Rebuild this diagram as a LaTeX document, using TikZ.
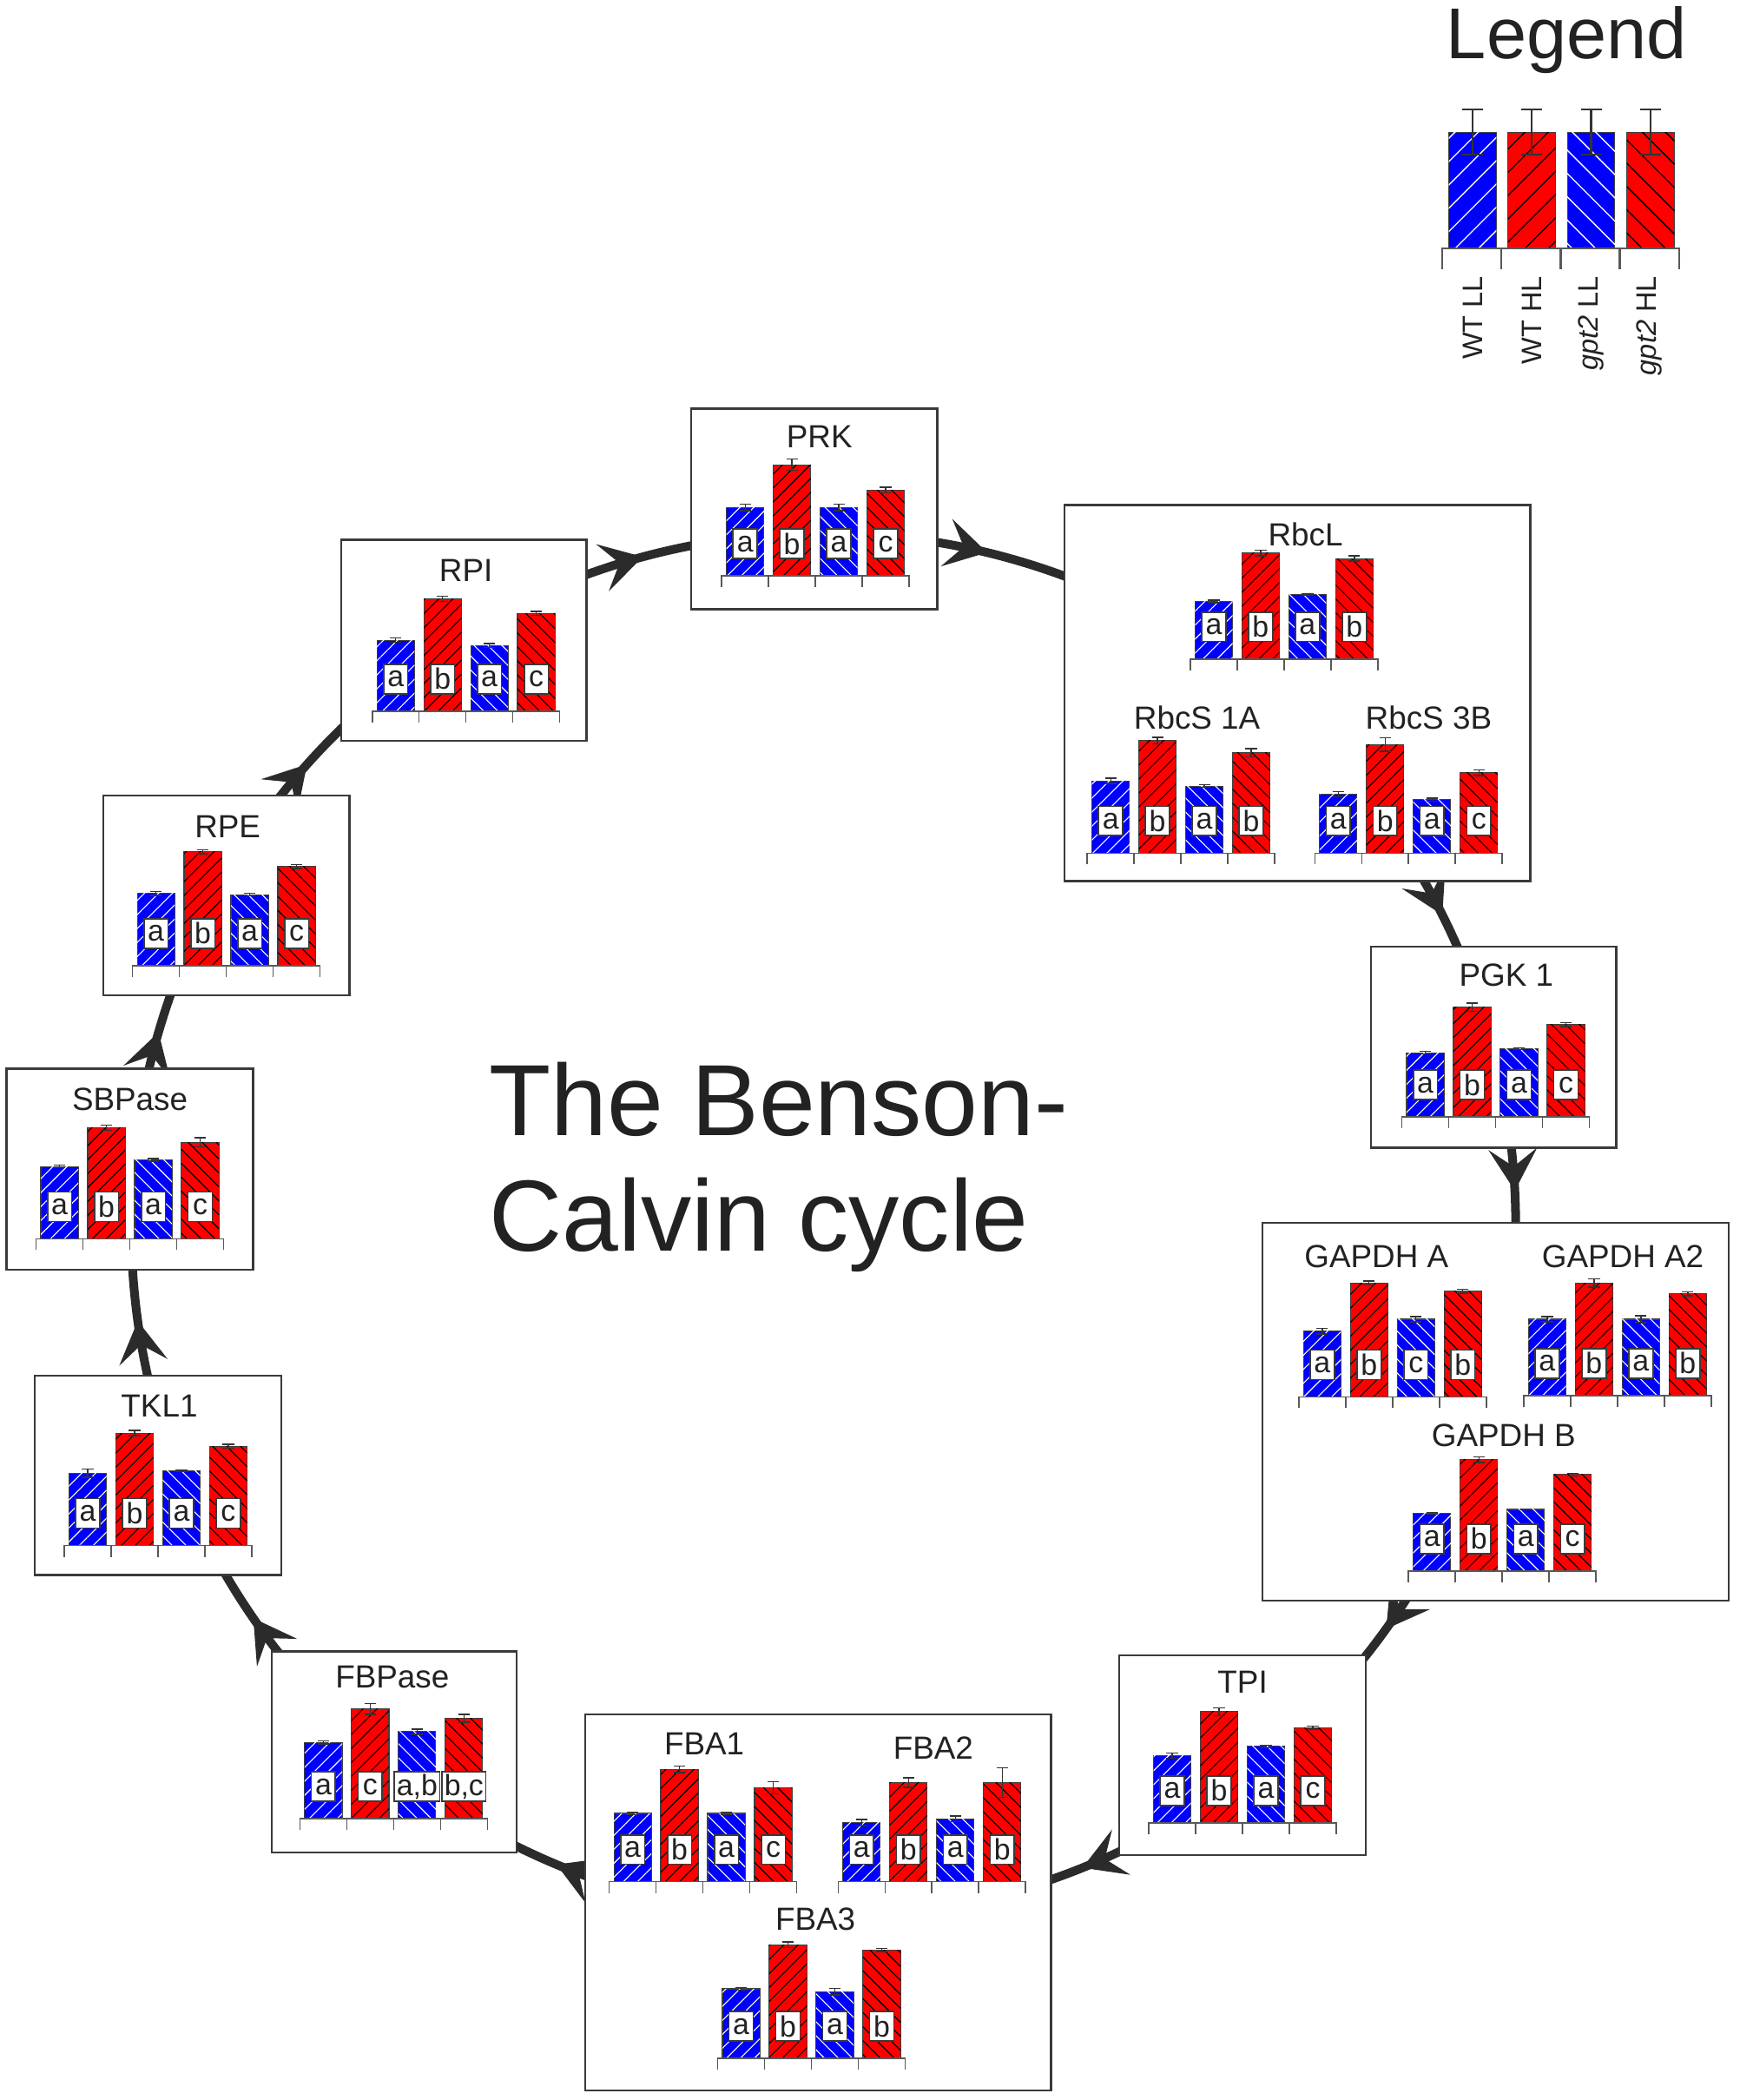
\documentclass[tikz,border=0pt]{standalone}
\usepackage{fontspec}
\setmainfont{Liberation Sans}
\usetikzlibrary{arrows.meta,patterns.meta,decorations.markings}
\definecolor{cyclegray}{HTML}{2B2B2B}
\definecolor{framegray}{HTML}{3A3A3A}
\definecolor{textgray}{HTML}{222222}
\definecolor{barblue}{HTML}{0000FF}
\definecolor{barred}{HTML}{FF0000}

\tikzset{
  panel/.style={draw=framegray, fill=white, line width=0.9pt},
  charttitle/.style={text=textgray, inner sep=0pt, font=\fontsize{13.6}{14}\selectfont},
  bigtitle/.style={text=textgray, inner sep=0pt, font=\fontsize{43}{50}\selectfont},
  lettbox/.style={draw=framegray, fill=white, line width=0.6pt, inner xsep=1pt, inner ysep=0pt,
    minimum width=0.36cm, minimum height=0.44cm, text=textgray, font=\fontsize{12.5}{12.5}\selectfont},
  legendlab/.style={text=textgray, inner sep=0pt, font=\fontsize{12}{12}\selectfont},
  barline/.style={draw=black!75, line width=0.4pt},
  errbar/.style={draw=black!80, line width=0.5pt},
  axisline/.style={draw=black!65, line width=0.6pt},
  cycleline/.style={color=cyclegray, line width=3.7pt},
  cyctip/.tip={Stealth[length=0.62cm, width=0.72cm, inset=0.26cm]},
  cyclearrows/.style={postaction={decorate}, decoration={markings,
    mark=at position 0.099 with {\arrow{cyctip}},
    mark=at position 0.189 with {\arrow{cyctip}},
    mark=at position 0.313 with {\arrow{cyctip}},
    mark=at position 0.404 with {\arrow{cyctip}},
    mark=at position 0.478 with {\arrow{cyctip}},
    mark=at position 0.545 with {\arrow{cyctip}},
    mark=at position 0.616 with {\arrow{cyctip}},
    mark=at position 0.708 with {\arrow{cyctip}},
    mark=at position 0.788 with {\arrow{cyctip}},
    mark=at position 0.926 with {\arrow{cyctip}},
    mark=at position 0.992 with {\arrow{cyctip}}}}
}

% #1 name, #2 left end of axis, #3 base line, #4 height/error/letter
\newcommand{\genechart}[4]{%
  \foreach \h/\e/\lab [count=\i from 0] in {#4} {
    \pgfmathsetmacro\bl{#2+3.5+35*\i}
    \pgfmathsetmacro\br{\bl+28}
    \pgfmathsetmacro\bc{\bl+14}
    \pgfmathsetmacro\bt{#3-\h}
    \pgfmathsetmacro\ang{\i<2 ? 45 : -45}
    \ifodd\i \def\bcol{barred}\def\hcol{black}\else \def\bcol{barblue}\def\hcol{white}\fi
    \draw[barline, fill=\bcol, postaction={pattern={Lines[angle=\ang, distance=4.2pt, line width=0.4pt]}, pattern color=\hcol}]
      (\bl,#3) rectangle (\br,\bt);
    \draw[errbar] (\bc,\bt-\e) -- (\bc,\bt+\e)
      (\bc-4.3,\bt-\e) -- (\bc+4.3,\bt-\e) (\bc-4.3,\bt+\e) -- (\bc+4.3,\bt+\e);
    \node[lettbox] (#1-\i) at (\bc,#3-24) {\lab};
  }
  \draw[axisline] (#2,#3+8.4) -- (#2,#3) -- (#2+140,#3) -- (#2+140,#3+8.4);
  \foreach \k in {1,2,3} \draw[axisline] (#2+35*\k,#3) -- (#2+35*\k,#3+8.4);
}

\begin{document}
\begin{tikzpicture}[x=0.02cm, y=-0.02cm]
\useasboundingbox (0,0) rectangle (1299,1568);

% the cycle
\coordinate (cyc) at (615,915);
\draw[cycleline, cyclearrows] (cyc) ++(517,0) arc[start angle=0, end angle=360, radius=517];

\node[bigtitle, anchor=base west] (cyc1) at (365,848) {The Benson-};
\node[bigtitle, anchor=base west] (cyc2) at (365,934) {Calvin cycle};

% legend
\node[charttitle, font=\fontsize{30.6}{32}\selectfont, anchor=base] (legend) at (1170,44) {Legend};
\foreach \i in {0,...,3} {
  \pgfmathsetmacro\bl{1082+44.3*\i}
  \pgfmathsetmacro\bc{\bl+17.75}
  \pgfmathsetmacro\ang{\i<2 ? 45 : -45}
  \ifodd\i \def\bcol{barred}\def\hcol{black}\else \def\bcol{barblue}\def\hcol{white}\fi
  \draw[barline, fill=\bcol, postaction={pattern={Lines[angle=\ang, distance=7pt, line width=0.5pt]}, pattern color=\hcol}]
    (\bl,185.5) rectangle (\bl+35.5,98.6);
  \draw[errbar, line width=0.8pt] (\bc,81.7) -- (\bc,115.5) (\bc-7.8,81.7) -- (\bc+7.8,81.7) (\bc-7.8,115.5) -- (\bc+7.8,115.5);
}
\draw[axisline, line width=0.9pt] (1077,201) -- (1077,185.5) -- (1254,185.5) -- (1254,201);
\foreach \k in {1,2,3} \draw[axisline, line width=0.9pt] (1077+44.25*\k,185.5) -- (1077+44.25*\k,201);
\node[legendlab, rotate=90, anchor=east] (leg-0) at (1100,206) {WT LL};
\node[legendlab, rotate=90, anchor=east] (leg-1) at (1144,206) {WT HL};
\node[legendlab, rotate=90, anchor=east] (leg-2) at (1188,206) {\textit{gpt2} LL};
\node[legendlab, rotate=90, anchor=east] (leg-3) at (1232,206) {\textit{gpt2} HL};

% PRK
\draw[panel] (516,305) rectangle (700,455);
\node[charttitle] (prk) at (612,326) {PRK};
\genechart{prk}{539}{430}{51/2.4/a, 83/4.3/b, 51/2.4/a, 64/2.2/c}

% Rubisco
\draw[panel] (795,377) rectangle (1143,658);
\node[charttitle] (rbcl) at (975,399) {RbcL};
\genechart{rbcl}{889}{492}{43/1/a, 79/2/b, 48/0.5/a, 75/2/b}
\node[charttitle] (rbcs1a) at (894,536) {RbcS 1A};
\genechart{rbcs1a}{812}{637}{54/2/a, 84/2.5/b, 50/1/a, 75/3/b}
\node[charttitle] (rbcs3b) at (1067,536) {RbcS 3B};
\genechart{rbcs3b}{982}{637}{44/2/a, 81/5/b, 40/1/a, 60/2/c}

% PGK
\draw[panel] (1024,707) rectangle (1207,857);
\node[charttitle] (pgk) at (1125,728) {PGK 1};
\genechart{pgk}{1047}{834}{48/1/a, 82/3/b, 51/0.5/a, 69/1.5/c}

% GAPDH
\draw[panel] (943,913) rectangle (1291,1195);
\node[charttitle] (gapdha) at (1028,938) {GAPDH A};
\genechart{gapdha}{970}{1043}{49/2/a, 85/1.5/b, 58/2/c, 79/1.5/b}
\node[charttitle] (gapdha2) at (1212,938) {GAPDH A2};
\genechart{gapdha2}{1138}{1042}{57/2/a, 84/3/b, 57/2.5/a, 76/1.5/b}
\node[charttitle] (gapdhb) at (1123,1072) {GAPDH B};
\genechart{gapdhb}{1052}{1173}{43/0.5/a, 83/2/b, 46/0.5/a, 72/1/c}

% TPI
\draw[panel] (836,1236) rectangle (1020,1385);
\node[charttitle] (tpi) at (928,1256) {TPI};
\genechart{tpi}{858}{1361}{50/2/a, 83/3/b, 57/1/a, 71/1/c}

% FBA
\draw[panel] (437,1280) rectangle (785,1561);
\node[charttitle] (fba1) at (526,1302) {FBA1};
\genechart{fba1}{455}{1405}{51/1/a, 84/2.5/b, 51/1/a, 70/4.5/c}
\node[charttitle] (fba2) at (697,1305) {FBA2};
\genechart{fba2}{626}{1405}{44/2.5/a, 74/3.5/b, 47/2/a, 74/11/b}
\node[charttitle] (fba3) at (609,1433) {FBA3};
\genechart{fba3}{536}{1537}{52/1/a, 85/2/b, 50/2.5/a, 81/1/b}

% FBPase
\draw[panel] (203,1233) rectangle (386,1383);
\node[charttitle] (fbpase) at (293,1252) {FBPase};
\genechart{fbpase}{224}{1358}{57/1/a, 82/4/c, 65/2/{a,b}, 75/3/{b,c}}

% TKL
\draw[panel] (26,1027) rectangle (210,1176);
\node[charttitle] (tkl) at (119,1050) {TKL1};
\genechart{tkl}{48}{1154}{54/3/a, 84/2/b, 56/0.5/a, 74/1.5/c}

% SBPase
\draw[panel] (5,798) rectangle (189,948);
\node[charttitle] (sbpase) at (97,821) {SBPase};
\genechart{sbpase}{27}{925}{54/1/a, 83/2/b, 59/1/a, 72/3.5/c}

% RPE
\draw[panel] (77,594) rectangle (261,743);
\node[charttitle] (rpe) at (170,617) {RPE};
\genechart{rpe}{99}{721}{54/1.5/a, 85/1.5/b, 53/1/a, 74/1.5/c}

% RPI
\draw[panel] (255,403) rectangle (438,553);
\node[charttitle] (rpi) at (348,426) {RPI};
\genechart{rpi}{278}{531}{53/1.5/a, 84/2/b, 49/1.5/a, 73/1.5/c}

\end{tikzpicture}
\end{document}
